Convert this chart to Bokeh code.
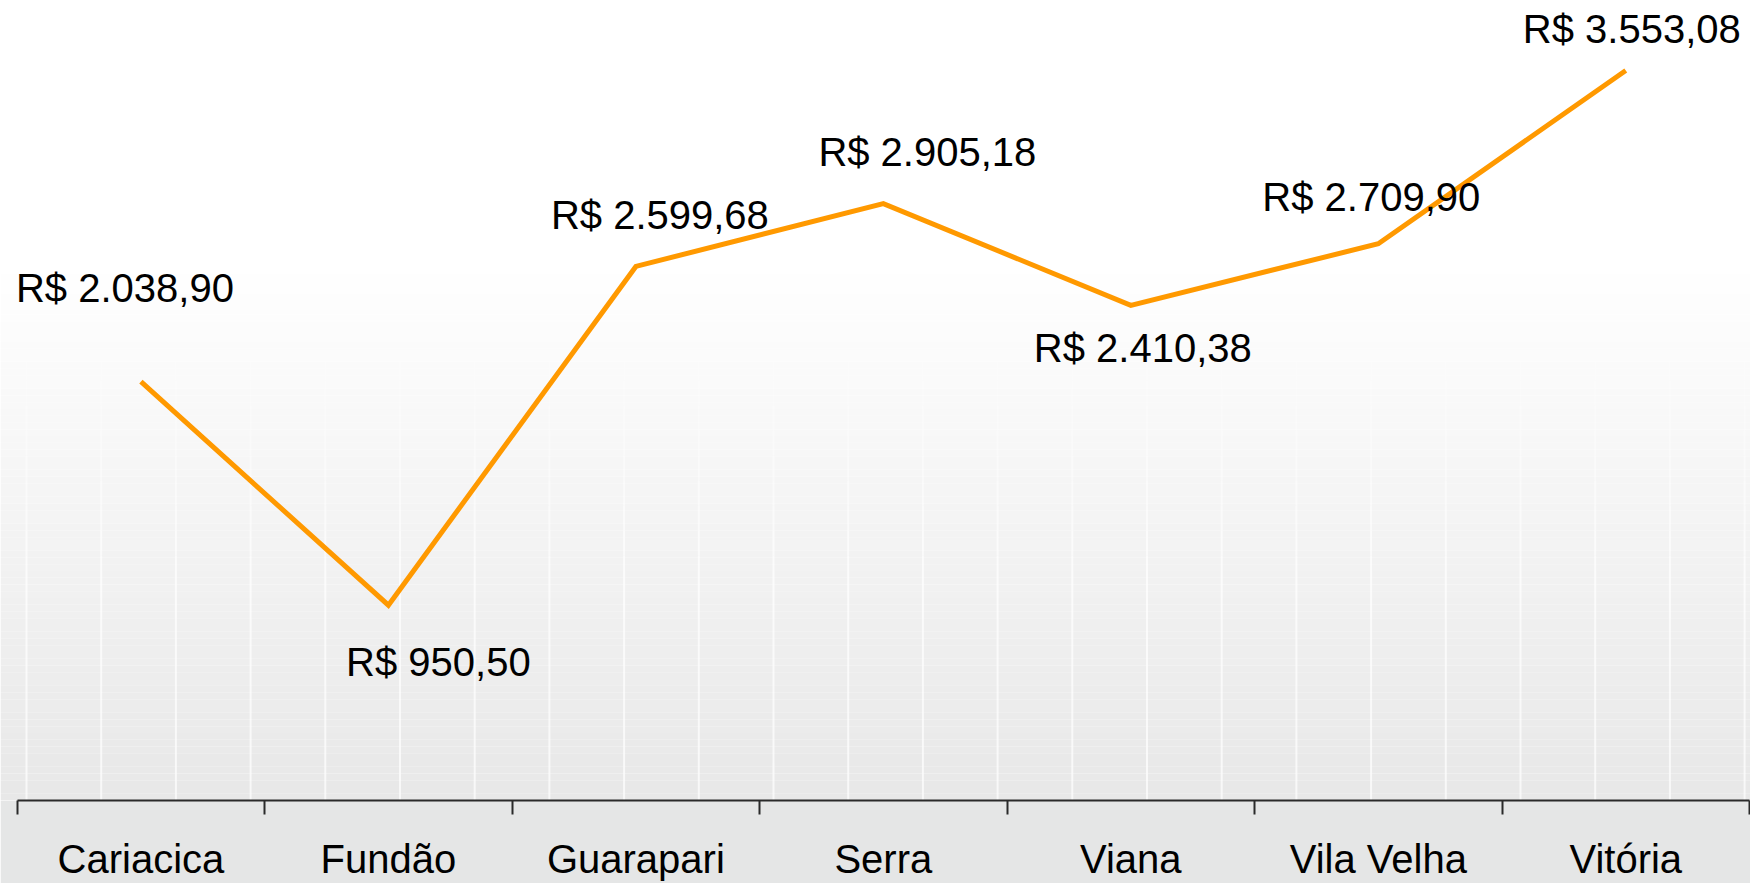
from bokeh.plotting import figure
from bokeh.models import FixedTicker, Range1d, BoxAnnotation
from bokeh.core.properties import value
from bokeh.embed import file_html
from bokeh.resources import INLINE

# ---- data ----
categories = ["Cariacica", "Fundão", "Guarapari", "Serra", "Viana", "Vila Velha", "Vitória"]
salaries = [2038.90, 950.50, 2599.68, 2905.18, 2410.38, 2709.90, 3553.08]
labels = ["R$ 2.038,90", "R$ 950,50", "R$ 2.599,68", "R$ 2.905,18",
          "R$ 2.410,38", "R$ 2.709,90", "R$ 3.553,08"]

# label placement offsets (style, pixels)
label_dx = [-16, 50, 24, 44, 12, -7, 6]
label_dy = [-94, 57, -51, -52, 43, -47, -42]

FONT = "Liberation Sans"
W, H = 1750, 883
FRAME_H = 800
BOTTOM = H - FRAME_H

n = len(categories)
xs = list(range(n))
px_per_cat = (1749 - 16.7) / n
x_start = -0.5 - 16.7 / px_per_cat
x_end = x_start + W / px_per_cat
y_end = 3894.0

p = figure(width=W, height=H, output_backend="svg", toolbar_location=None,
           x_range=Range1d(x_start, x_end), y_range=Range1d(0, y_end),
           y_axis_location=None, min_border_left=0, min_border_right=0,
           min_border_top=0, min_border_bottom=BOTTOM)
p.outline_line_color = None
p.xgrid.visible = False
p.ygrid.visible = False
p.border_fill_color = "#e5e6e6"
p.background_fill_color = "#ffffff"

def py_to_val(py):
    return y_end * (1 - py / FRAME_H)

# vertical gradient background (decoration)
G0 = 260
def shade(py):
    if py <= G0:
        return 255
    return 255 - (py - G0) / (H - G0) * 27

steps = 80
for i in range(steps):
    top_px = G0 + (FRAME_H - G0) * i / steps
    bot_px = G0 + (FRAME_H - G0) * (i + 1) / steps
    c = int(round(shade((top_px + bot_px) / 2)))
    p.add_layout(BoxAnnotation(top=py_to_val(top_px), bottom=py_to_val(bot_px),
                               fill_color=(c, c, c), fill_alpha=1.0,
                               line_color=None, level="underlay"))

# faint vertical stripes (decoration), fading in from the middle
half_w = 1.0 / px_per_cat
seg_edges = list(range(330, 580, 25)) + [FRAME_H]
k = 0
while 26 + 74.7 * k < W:
    sx = x_start + (26 + 74.7 * k) / px_per_cat
    for j in range(len(seg_edges) - 1):
        a = 0.1 + 0.6 * j / (len(seg_edges) - 2)
        p.add_layout(BoxAnnotation(left=sx - half_w, right=sx + half_w,
                                   top=py_to_val(seg_edges[j]), bottom=py_to_val(seg_edges[j + 1]),
                                   fill_color="white", fill_alpha=a,
                                   line_color=None, level="underlay"))
    k += 1

p.line(xs, salaries, line_color="#ff9900", line_width=5, line_join="miter")

p.text(x=xs, y=salaries, text=labels, x_offset=label_dx, y_offset=label_dy,
       text_font=value(FONT), text_font_size="40px", text_color="#000000",
       text_align="center", text_baseline="middle")

ax = p.xaxis[0]
ax.ticker = FixedTicker(ticks=xs, minor_ticks=[i - 0.5 for i in range(n + 1)])
ax.major_label_overrides = {i: c for i, c in enumerate(categories)}
ax.bounds = (-0.5, n - 0.5)
ax.axis_line_color = "#2a2a2a"
ax.axis_line_width = 2
ax.major_tick_out = 0
ax.major_tick_in = 0
ax.minor_tick_out = 14
ax.minor_tick_in = 0
ax.minor_tick_line_color = "#2a2a2a"
ax.minor_tick_line_width = 2
ax.major_label_standoff = 22
ax.major_label_text_font = FONT
ax.major_label_text_font_size = "40px"
ax.major_label_text_color = "#000000"

open("out.html", "w").write(file_html(p, INLINE))
